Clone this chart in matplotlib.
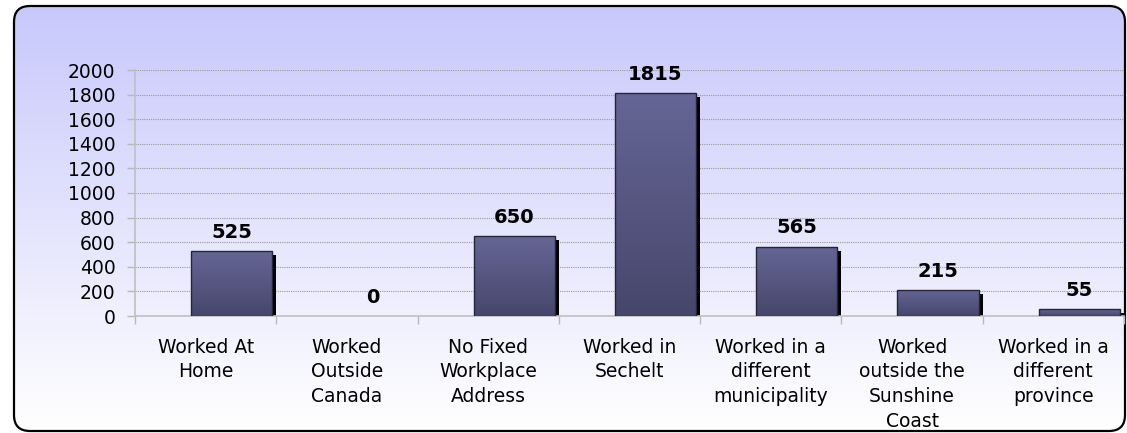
import matplotlib
matplotlib.use('Agg')
import matplotlib.pyplot as plt
import numpy as np
from matplotlib.patches import FancyBboxPatch
from matplotlib.transforms import offset_copy

categories = ["Worked At\nHome", "Worked\nOutside\nCanada", "No Fixed\nWorkplace\nAddress",
              "Worked in\nSechelt", "Worked in a\ndifferent\nmunicipality",
              "Worked\noutside the\nSunshine\nCoast", "Worked in a\ndifferent\nprovince"]
values = [525, 0, 650, 1815, 565, 215, 55]
yticks = list(range(0, 2001, 200))

W, H = 1127, 433
fig = plt.figure(figsize=(W / 100, H / 100), dpi=100)

# background frame with gradient
bg = fig.add_axes([0, 0, 1, 1])
bg.set_xlim(0, W)
bg.set_ylim(H, 0)
bg.axis('off')
t = np.linspace(0, 1, 256)[:, None, None]
topc = np.array([0xc8, 0xc8, 0xfc]) / 255.0
botc = np.array([1.0, 1.0, 1.0])
img = topc + (botc - topc) * t
fx0, fy0, fx1, fy1 = 14, 6, 1125, 431
frame = FancyBboxPatch((fx0, fy0), fx1 - fx0, fy1 - fy0,
                       boxstyle="round,pad=0,rounding_size=16",
                       facecolor='none', edgecolor='black', lw=1.6, zorder=3)
bg.add_patch(frame)
im = bg.imshow(img, extent=(fx0, fx1, fy1, fy0), aspect='auto', zorder=1)
im.set_clip_path(frame)
bg.set_xlim(0, W)
bg.set_ylim(H, 0)

# main axes
ax = fig.add_axes([135 / W, (H - 316) / H, 989 / W, 246 / H])
ax.patch.set_alpha(0)
x = np.arange(len(values))
left = x - 0.104
width = 0.576

shadow_tr = offset_copy(ax.transData, fig=fig, x=4, y=-4, units='dots')
ax.bar(left, values, width, align='edge', color='black', linewidth=0,
       transform=shadow_tr, zorder=2)

bars = ax.bar(left, values, width, align='edge', facecolor='none',
              edgecolor='#25253a', linewidth=1.0, zorder=4)
btop = np.array([0x66, 0x66, 0x96]) / 255.0
bbot = np.array([0x46, 0x46, 0x6c]) / 255.0
bimg = btop + (bbot - btop) * t
for l, v, r in zip(left, values, bars):
    if v > 0:
        bi = ax.imshow(bimg, extent=(l, l + width, 0, v), aspect='auto', zorder=3)
        bi.set_clip_path(r)
    else:
        r.set_linewidth(0)

for i, v in enumerate(values):
    ax.annotate(str(v), (left[i] + width / 2, v), xytext=(0, 6.5),
                textcoords='offset points', ha='center', va='bottom',
                fontsize=14, fontweight='bold', color='black')

ax.set_xlim(-0.5, len(values) - 0.5)
ax.set_ylim(0, 2000)
ax.set_yticks(yticks)
ax.set_yticklabels([str(v) for v in yticks], fontsize=13.5)
ax.set_xticks(np.arange(-0.5, len(values), 1))
ax.set_xticklabels([])
ax.set_xticks(x, minor=True)
ax.set_xticklabels(categories, minor=True, fontsize=13.5, linespacing=1.38, va='top')
ax.tick_params(axis='x', which='minor', length=0, pad=15.5)
ax.tick_params(axis='x', which='major', length=6, color='#b8b8b8', width=1)
ax.tick_params(axis='y', length=6, color='#b8b8b8', width=1, pad=8)
ax.set_aspect('auto')
ax.grid(axis='y', color='#999999', linestyle=(0, (1, 1)), linewidth=0.8, zorder=1)
ax.set_axisbelow(True)
for s in ['top', 'right']:
    ax.spines[s].set_visible(False)
for s in ['left', 'bottom']:
    ax.spines[s].set_color('#c0c0c0')
    ax.spines[s].set_linewidth(1.2)

fig.savefig('out.png', dpi=100)
